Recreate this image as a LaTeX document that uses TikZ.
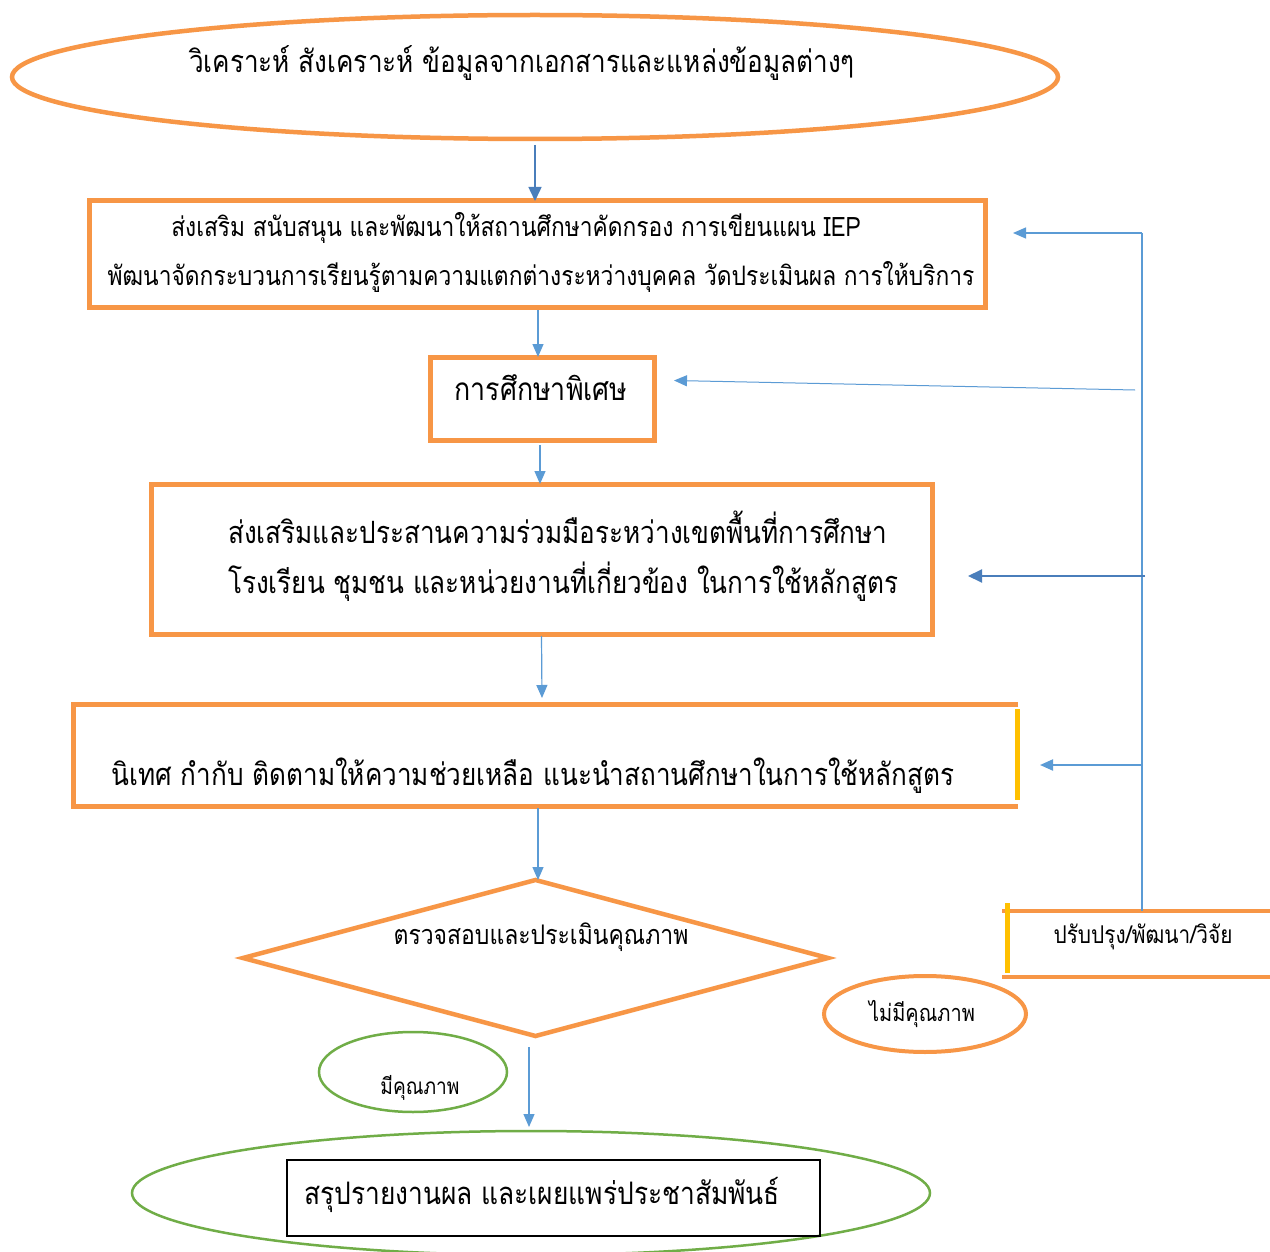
\documentclass[tikz,border=0pt]{standalone}
\usepackage{fontspec}
\newfontfamily\thai[Script=Thai,FakeStretch=0.85]{Loma}
\usetikzlibrary{shapes.geometric,arrows.meta}
\definecolor{org}{HTML}{F79646}
\definecolor{lb}{HTML}{5B9BD5}
\definecolor{db}{HTML}{4A7EBB}
\definecolor{grn}{HTML}{70AD47}
\definecolor{ylw}{HTML}{FFC000}
\tikzset{
  big/.style={font=\thai\fontsize{30.7}{36}\selectfont, inner sep=0pt},
  bx2/.style={font=\thai\fontsize{26.8}{32}\selectfont, inner sep=0pt},
  obox/.style={draw=org, line width=5pt, rectangle, inner sep=0pt},
  shp/.style={inner sep=0pt, outer sep=0pt},
  flow/.style={draw=lb, line width=1.2pt, -{Triangle[length=13pt,width=11pt]}},
  flowd/.style={draw=db, line width=2pt, -{Triangle[length=14pt,width=13pt]}},
}
\begin{document}
\begin{tikzpicture}[x=1pt,y=-1pt]
\useasboundingbox[fill=white] (0,0) rectangle (1270,1252);

% shapes
\node[shp, ellipse, draw=org, line width=4.5pt, minimum width=1046, minimum height=124] (e1) at (535,77) {};
\node[shp, obox, minimum width=896, minimum height=107] (b2) at (537,254.5) {};
\node[shp, obox, minimum width=224, minimum height=83] (b3) at (542,398.5) {};
\node[shp, obox, minimum width=781, minimum height=150] (b4) at (541.5,559) {};
\node[shp, minimum width=945, minimum height=102] (b5) at (545.5,755) {};
\draw[org, line width=5pt] (b5.north east) -- (b5.north west) -- (b5.south west) -- (b5.south east);
\draw[ylw, line width=5pt] ([xshift=-1,yshift=-5]b5.north east) -- ([xshift=-1,yshift=6]b5.south east);
\node[shp, diamond, draw=org, line width=4.5pt, aspect=3.75, minimum width=585, minimum height=156] (dm) at (535.5,958) {};
\node[shp, ellipse, draw=grn, line width=2.5pt, minimum width=188, minimum height=80] (ey) at (413,1072) {};
\node[shp, ellipse, draw=org, line width=4pt, minimum width=202, minimum height=76] (en) at (925,1014) {};
\node[shp, ellipse, draw=grn, line width=2.5pt, minimum width=798, minimum height=124] (ee) at (531,1193) {};
\node[shp, draw=black, line width=1.5pt, minimum width=533, minimum height=76] (re) at (553.5,1198) {};
\node[shp, minimum width=268, minimum height=66] (bf) at (1136,944) {};
\draw[org, line width=4.5pt] (bf.north west) -- ([xshift=10]bf.north east);
\draw[org, line width=4.5pt] (bf.south west) -- ([xshift=10]bf.south east);
\draw[ylw, line width=5pt] ([xshift=5,yshift=8]bf.north west) -- ([xshift=5,yshift=4]bf.south west);

% texts
\node[big] (t1) at (522,63) {วิเคราะห์ สังเคราะห์ ข้อมูลจากเอกสารและแหล่งข้อมูลต่างๆ};
\node[bx2] (t2a) at (516,228) {ส่งเสริม สนับสนุน และพัฒนาให้สถานศึกษาคัดกรอง การเขียนแผน IEP};
\node[bx2] (t2b) at (541,277) {พัฒนาจัดกระบวนการเรียนรู้ตามความแตกต่างระหว่างบุคคล วัดประเมินผล การให้บริการ};
\node[big, font=\thai\fontsize{31.5}{36}\selectfont] (t3) at (541,388) {การศึกษาพิเศษ};
\node[big, anchor=west] (t4a) at (228,527) {ส่งเสริมและประสานความร่วมมือระหว่างเขตพื้นที่การศึกษา};
\node[big, anchor=west] (t4b) at (228,582) {โรงเรียน ชุมชน และหน่วยงานที่เกี่ยวข้อง ในการใช้หลักสูตร};
\node[big] (t5) at (533,776) {นิเทศ กำกับ ติดตามให้ความช่วยเหลือ แนะนำสถานศึกษาในการใช้หลักสูตร};
\node[big, font=\thai\fontsize{27}{32}\selectfont] (td) at (541,937) {ตรวจสอบและประเมินคุณภาพ};
\node[big, font=\thai\fontsize{22.5}{27}\selectfont] (ty) at (420,1088) {มีคุณภาพ};
\node[big, font=\thai\fontsize{23.5}{28}\selectfont] (tn) at (922,1014) {ไม่มีคุณภาพ};
\node[big, font=\thai\fontsize{24.5}{29}\selectfont] (tf) at (1143,937) {ปรับปรุง/พัฒนา/วิจัย};
\node[big, font=\thai\fontsize{31}{36}\selectfont] (te) at (542,1195) {สรุปรายงานผล และเผยแพร่ประชาสัมพันธ์};

% main flow
\draw[flowd, line width=1.5pt] ([yshift=-6]e1.south) -- (e1.south |- b2.north);
\draw[flow] ([xshift=1,yshift=-2]b2.south) -- ([xshift=-4]b3.north);
\draw[flow] ([xshift=-2,yshift=-5]b3.south) -- ([xshift=-1.5]b4.north);
\draw[flow] ([yshift=-2]b4.south) -- ([xshift=-3.5,yshift=6]b5.north);
\draw[flow] ([xshift=-7.5,yshift=-2]b5.south) -- ([xshift=2.5]dm.north);
\draw[flow] ([xshift=-6.5,yshift=-11]dm.south) -- ([xshift=-2,yshift=4]ee.north);

% feedback
\coordinate (ft) at (1142,233);
\coordinate (fb) at ([xshift=5]bf.north);
\draw[lb, line width=1.5pt] (ft) -- (ft |- fb);
\draw[flow] (ft) -- ([xshift=28]b2.east |- ft);
\coordinate (f3) at (1135,390);
\draw[flow, line width=1pt] (f3) -- ([xshift=20,yshift=18]b3.east);
\draw[flowd] ([xshift=3]ft |- 0,576) -- ([xshift=36,yshift=-17]b4.east);
\draw[flow, line width=2pt] (ft |- 0,765) -- ([xshift=22,yshift=-10]b5.east);
\end{tikzpicture}
\end{document}
